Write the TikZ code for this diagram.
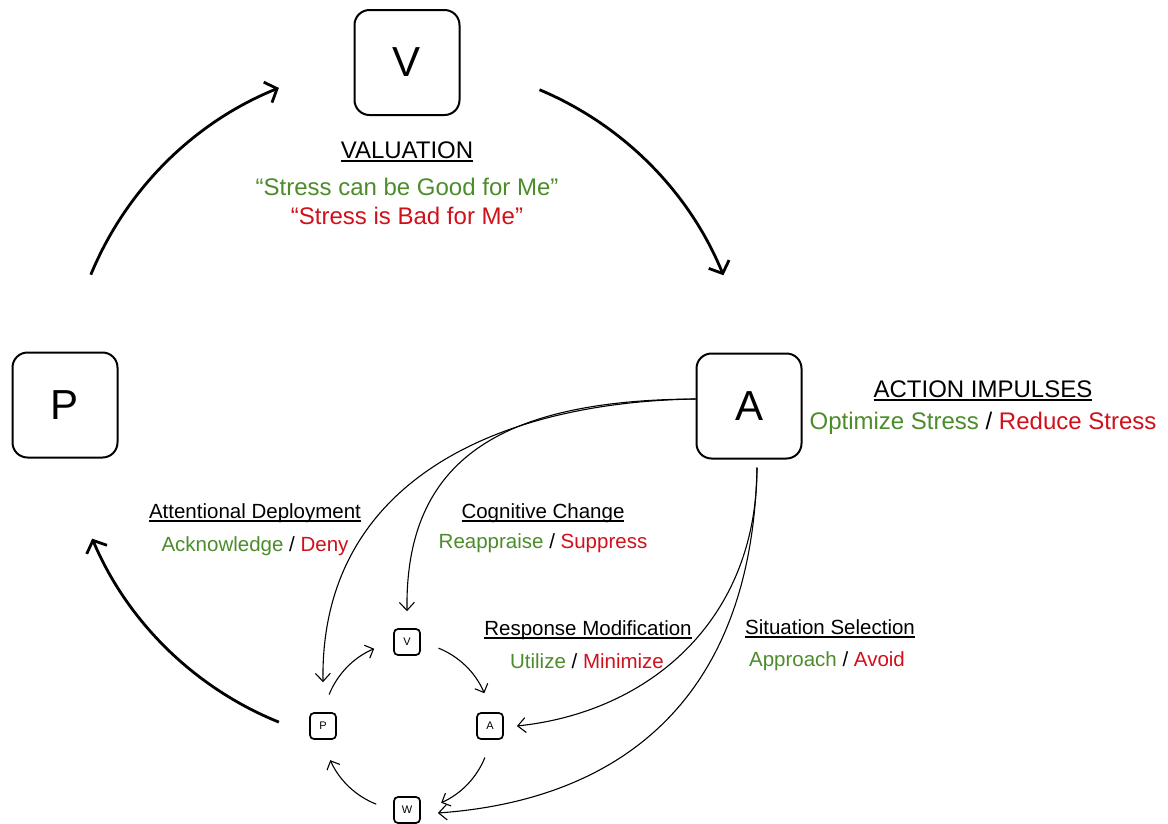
\documentclass[tikz,border=0pt]{standalone}
\usepackage{fontspec}
\setmainfont{Liberation Sans}
\usetikzlibrary{arrows.meta}
\definecolor{pos}{RGB}{76,140,43}
\definecolor{neg}{RGB}{208,16,26}
\newcommand\myul[1]{\setbox0\hbox{#1}\rlap{\rule[-3.5pt]{\wd0}{1.6pt}}\box0}
\begin{document}
\begin{tikzpicture}[x=1pt,y=1pt,
 bigbox/.style={draw, line width=2pt, rounded corners=15pt, minimum width=105pt, minimum height=105pt, font=\fontsize{42}{46}\selectfont, inner sep=0pt},
 smallbox/.style={draw, line width=1.7pt, rounded corners=4pt, minimum width=26pt, minimum height=26pt, font=\fontsize{11}{12}\selectfont, inner sep=0pt},
 bigarrow/.style={line width=2.8pt, -{Straight Barb[length=10pt,width=22pt]}},
 smallarrow/.style={line width=1.1pt, -{Straight Barb[length=7pt,width=14pt]}},
 thinarrow/.style={line width=1.1pt, -{Straight Barb[length=8pt,width=15pt]}},
 head/.style={font=\fontsize{24}{26}\selectfont, anchor=base, inner sep=0pt},
 sub/.style={font=\fontsize{20.5}{22}\selectfont, anchor=base, inner sep=0pt},
]
\useasboundingbox (0,-823) rectangle (1168,0);
\fill[white] (0,-823) rectangle (1168,0);

% big nodes
\node[bigbox] (V) at (407,-62.5) {V};
\node[bigbox] (A) at (749,-406) {A};
\node[bigbox] (P) at (65,-405) {P};

% small nodes
\node[smallbox] (v) at (407,-642) {V};
\node[smallbox] (a) at (490,-726) {A};
\node[smallbox] (p) at (323,-726) {P};
\node[smallbox] (w) at (407,-810) {W};

% big cycle
\coordinate (C) at (407,-405);
\draw[bigarrow] ([shift={(157.6:342)}]C) arc[start angle=157.6, end angle=112, radius=342];
\draw[bigarrow] ([shift={(67.2:342)}]C) arc[start angle=67.2, end angle=22.3, radius=342];
\draw[bigarrow] ([shift={(248:342)}]C) arc[start angle=248, end angle=203, radius=342];

% small cycle
\coordinate (c) at (407,-726);
\draw[smallarrow] ([shift={(158:84)}]c) arc[start angle=158, end angle=113, radius=84];
\draw[smallarrow] ([shift={(68:84)}]c) arc[start angle=68, end angle=23, radius=84];
\draw[smallarrow] ([shift={(-22:84)}]c) arc[start angle=-22, end angle=-66, radius=84];
\draw[smallarrow] ([shift={(248.5:84)}]c) arc[start angle=248.5, end angle=204, radius=84];

% connectors from big A
\draw[thinarrow] ([yshift=7pt]A.west) .. controls (500,-402) and (320,-480) .. ([yshift=30pt]p.north);
\draw[thinarrow] ([yshift=7pt]A.west) .. controls (500,-400) and (405,-460) .. ([yshift=17pt]v.north);
\draw[thinarrow] ([xshift=8pt,yshift=-8pt]A.south) .. controls (757,-620) and (650,-712) .. ([xshift=13pt]a.east);
\draw[thinarrow] ([xshift=8pt,yshift=-8pt]A.south) .. controls (752,-700) and (620,-800) .. ([xshift=17pt,yshift=-3pt]w.east);

% labels
\node[head] (valT) at (407,-158) {\myul{VALUATION}};
\node[head, text=pos] (valG) at (407,-195) {“Stress can be Good for Me”};
\node[head, text=neg] (valR) at (407,-224) {“Stress is Bad for Me”};

\node[head] (actT) at (983,-397) {\myul{ACTION IMPULSES}};
\node[head] (actS) at (983,-429) {{\color{pos}Optimize Stress} / {\color{neg}Reduce Stress}};

\node[sub] (adT) at (255,-518) {\myul{Attentional Deployment}};
\node[sub] (adS) at (255,-551) {{\color{pos}Acknowledge} / {\color{neg}Deny}};

\node[sub] (ccT) at (543,-518) {\myul{Cognitive Change}};
\node[sub] (ccS) at (543,-548) {{\color{pos}Reappraise} / {\color{neg}Suppress}};

\node[sub] (rmT) at (588,-635) {\myul{Response Modification}};
\node[sub] (rmS) at (587,-668) {{\color{pos}Utilize} / {\color{neg}Minimize}};

\node[sub] (ssT) at (830,-634) {\myul{Situation Selection}};
\node[sub] (ssS) at (827,-666) {{\color{pos}Approach} / {\color{neg}Avoid}};
\end{tikzpicture}
\end{document}
